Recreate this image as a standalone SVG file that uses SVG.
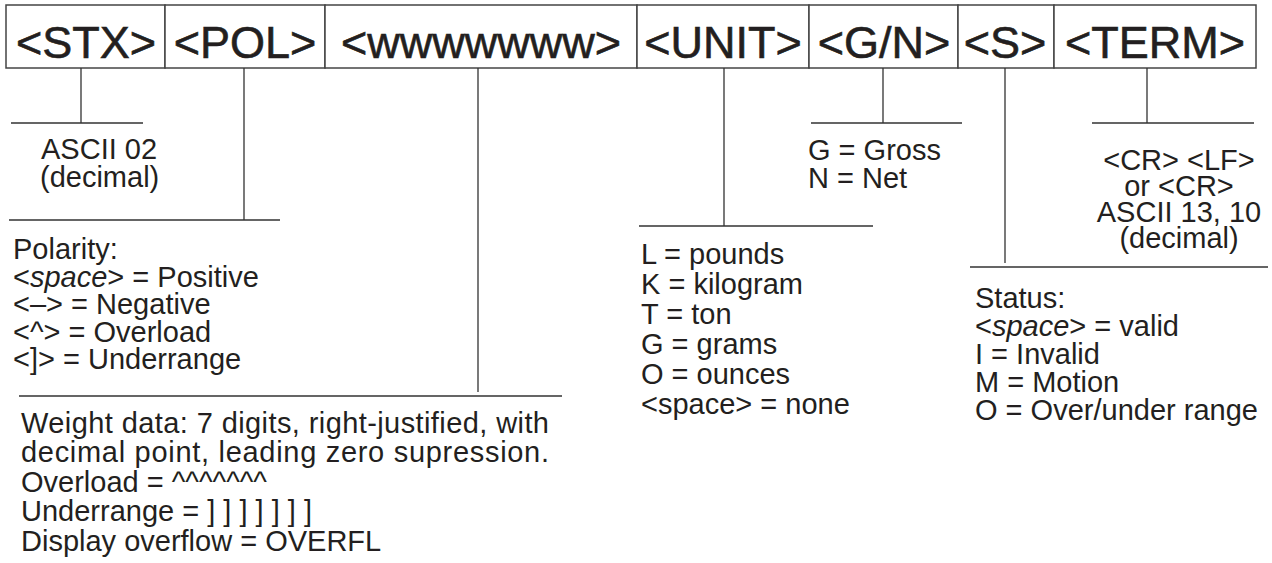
<svg xmlns="http://www.w3.org/2000/svg" width="1272" height="563" viewBox="0 0 1272 563">
<style>
.cell{fill:#fff;stroke:#444;stroke-width:1.5}
.hdr{font-family:"Liberation Sans",Arial,sans-serif;font-size:45px;fill:#231f20;stroke:#231f20;stroke-width:0.6;text-anchor:middle}
.t{font-family:"Liberation Sans",Arial,sans-serif;font-size:29px;fill:#231f20}
.c{text-anchor:middle}
.ln{stroke:#333;stroke-width:1.3;fill:none}
</style>
<rect width="1272" height="563" fill="#fff"/>
<g id="fields">
<g id="f-stx"><rect class="cell" x="6" y="5" width="159" height="63"/><text class="hdr" x="86" y="58">&lt;STX&gt;</text></g>
<g id="f-pol"><rect class="cell" x="165" y="5" width="160" height="63"/><text class="hdr" x="245" y="58">&lt;POL&gt;</text></g>
<g id="f-wwww"><rect class="cell" x="325" y="5" width="312" height="63"/><text class="hdr" x="481" y="58">&lt;wwwwwww&gt;</text></g>
<g id="f-unit"><rect class="cell" x="637" y="5" width="172" height="63"/><text class="hdr" x="723" y="58">&lt;UNIT&gt;</text></g>
<g id="f-gn"><rect class="cell" x="809" y="5" width="149" height="63"/><text class="hdr" x="884" y="58">&lt;G/N&gt;</text></g>
<g id="f-s"><rect class="cell" x="958" y="5" width="96" height="63"/><text class="hdr" x="1005" y="58">&lt;S&gt;</text></g>
<g id="f-term"><rect class="cell" x="1054" y="5" width="202" height="63"/><text class="hdr" x="1155" y="58">&lt;TERM&gt;</text></g>
</g>
<g id="connectors">
<path class="ln" d="M81 68V123M11 123H143"/>
<path class="ln" d="M244 68V220M9 220H280"/>
<path class="ln" d="M478 68V392M19 396H562"/>
<path class="ln" d="M724 68V226M639 226H873"/>
<path class="ln" d="M883 68V123M811 123H962"/>
<path class="ln" d="M1005 68V263M970 267H1268"/>
<path class="ln" d="M1147 68V123M1092 123H1254"/>
</g>
<g id="d-stx">
<text class="t" x="41" y="159">ASCII 02</text>
<text class="t" x="40" y="187">(decimal)</text>
</g>
<g id="d-pol">
<text class="t" x="13" y="259">Polarity:</text>
<text class="t" x="13" y="286.5">&lt;<tspan font-style="italic">space</tspan>&gt; = Positive</text>
<text class="t" x="13" y="314">&lt;–&gt; = Negative</text>
<text class="t" x="13" y="341.5">&lt;^&gt; = Overload</text>
<text class="t" x="13" y="369">&lt;]&gt; = Underrange</text>
</g>
<g id="d-wwww">
<text class="t" x="21" y="433" textLength="528" lengthAdjust="spacing">Weight data: 7 digits, right-justified, with</text>
<text class="t" x="21" y="462" textLength="528" lengthAdjust="spacing">decimal point, leading zero supression.</text>
<text class="t" x="21" y="492">Overload = ^^^^^^^</text>
<text class="t" x="21" y="521">Underrange = ] ] ] ] ] ] ]</text>
<text class="t" x="21" y="551">Display overflow = OVERFL</text>
</g>
<g id="d-unit">
<text class="t" x="641" y="264">L = pounds</text>
<text class="t" x="641" y="294">K = kilogram</text>
<text class="t" x="641" y="324">T = ton</text>
<text class="t" x="641" y="354">G = grams</text>
<text class="t" x="641" y="384">O = ounces</text>
<text class="t" x="641" y="414">&lt;space&gt; = none</text>
</g>
<g id="d-gn">
<text class="t" x="808" y="160">G = Gross</text>
<text class="t" x="808" y="188">N = Net</text>
</g>
<g id="d-term">
<text class="t c" x="1179" y="170">&lt;CR&gt; &lt;LF&gt;</text>
<text class="t c" x="1179" y="196">or &lt;CR&gt;</text>
<text class="t c" x="1179" y="222">ASCII 13, 10</text>
<text class="t c" x="1179" y="248">(decimal)</text>
</g>
<g id="d-s">
<text class="t" x="975" y="308">Status:</text>
<text class="t" x="975" y="336">&lt;<tspan font-style="italic">space</tspan>&gt; = valid</text>
<text class="t" x="975" y="364">I = Invalid</text>
<text class="t" x="975" y="392">M = Motion</text>
<text class="t" x="975" y="420">O = Over/under range</text>
</g>
</svg>
